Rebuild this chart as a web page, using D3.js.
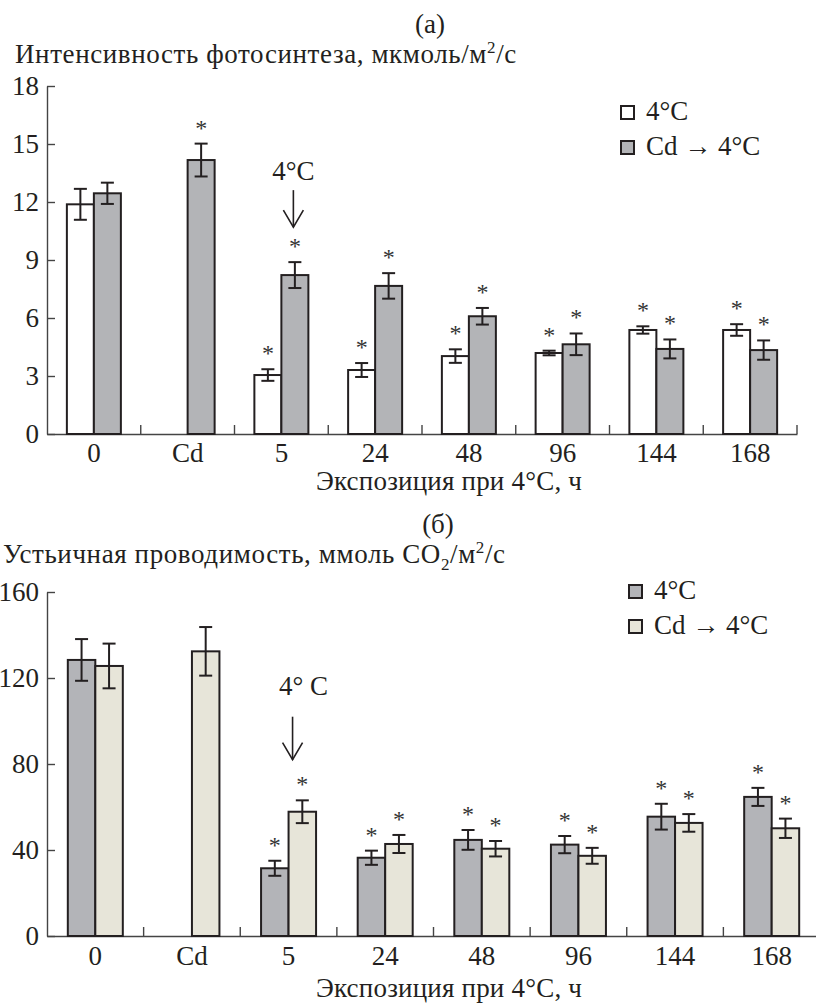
<!DOCTYPE html>
<html>
<head>
<meta charset="utf-8">
<script src="https://cdn.jsdelivr.net/npm/d3@7"></script>
<style>
  body { margin: 0; background: #fff; }
  text { font-family: "Liberation Serif", "Times New Roman", serif; fill: #231f20; }
</style>
</head>
<body>
<div id="chart"></div>
<script>
// categories (exposure at 4°C, h)
const categories = ["0", "Cd", "5", "24", "48", "96", "144", "168"];

// (а) photosynthesis rate, µmol/m2/s
const photo4 = [11.88, null, 3.05, 3.31, 4.03, 4.19, 5.38, 5.38];
const photo4Err = [0.8, null, 0.3, 0.36, 0.35, 0.12, 0.19, 0.3];
const photo4Sig = [false, false, true, true, true, true, true, true];
const photoCd = [12.45, 14.17, 8.22, 7.66, 6.09, 4.64, 4.4, 4.34];
const photoCdErr = [0.55, 0.85, 0.67, 0.66, 0.43, 0.56, 0.49, 0.5];
const photoCdSig = [false, true, true, true, true, true, true, true];
const photoTicks = [0, 3, 6, 9, 12, 15, 18];

// (б) stomatal conductance, mmol CO2/m2/s
const cond4 = [128.4, null, 31.5, 36.4, 44.7, 42.5, 55.5, 64.7];
const cond4Err = [9.7, null, 3.5, 3.3, 4.6, 4.0, 6.0, 4.2];
const cond4Sig = [false, false, true, true, true, true, true, true];
const condCd = [125.6, 132.4, 57.8, 42.8, 40.6, 37.3, 52.6, 50.1];
const condCdErr = [10.4, 11.3, 5.3, 4.2, 3.6, 3.7, 4.1, 4.5];
const condCdSig = [false, false, true, true, true, true, true, true];
const condTicks = [0, 40, 80, 120, 160];

const seriesNames = ["4°C", "Cd → 4°C"];

const W = 816, H = 1003;
const ink = "#231f20";
const fs = 27;

const svg = d3.select("#chart").append("svg")
    .attr("width", W)
    .attr("height", H);

function drawPanel(cfg) {
    const g = svg.append("g");

    const x = d3.scaleBand().domain(categories).range([cfg.left, cfg.right]);
    const y = d3.scaleLinear().domain([0, cfg.yMax]).range([cfg.bottom, cfg.top]);
    const x1 = d3.scaleBand().domain([0, 1]).range([0, cfg.barW * 2]);
    const off = (x.bandwidth() - cfg.barW * 2) / 2;

    // panel letter and title
    g.append("text")
        .attr("x", cfg.letterX).attr("y", cfg.letterY)
        .attr("text-anchor", "middle")
        .attr("font-size", fs)
        .text(cfg.letter);

    const t = g.append("text")
        .attr("x", cfg.titleX).attr("y", cfg.titleY)
        .attr("font-size", fs)
        .attr("letter-spacing", 0.6);
    cfg.title.forEach(p => {
        const s = t.append("tspan").text(p.t);
        if (p.sup) s.attr("font-size", 17).attr("dy", -10);
        if (p.sub) s.attr("font-size", 17).attr("dy", 7);
        if (p.back) s.attr("dy", p.back);
    });

    // y axis with inward ticks
    const yAxis = g.append("g")
        .attr("transform", `translate(${cfg.left},0)`)
        .call(d3.axisLeft(y).tickValues(cfg.ticks).tickSize(-8).tickPadding(8).tickSizeOuter(0));
    yAxis.select(".domain").attr("stroke", "#444").attr("stroke-width", 1.4);
    yAxis.selectAll(".tick line").attr("stroke", "#444").attr("stroke-width", 1.4);
    yAxis.selectAll(".tick text")
        .attr("font-size", fs)
        .attr("font-family", "Liberation Serif")
        .attr("fill", ink);

    // x axis: labels at band centres, ticks at band boundaries
    const xAxis = g.append("g")
        .attr("transform", `translate(0,${cfg.bottom})`)
        .call(d3.axisBottom(x).tickSize(0).tickSizeOuter(0));
    xAxis.select(".domain").attr("stroke", "#444").attr("stroke-width", 1.4);
    xAxis.selectAll(".tick text")
        .attr("font-size", fs)
        .attr("font-family", "Liberation Serif")
        .attr("fill", ink)
        .attr("dy", null)
        .attr("y", cfg.tickLabelDy);

    g.selectAll(".xtick")
        .data(categories)
        .enter().append("line")
        .attr("class", "xtick")
        .attr("x1", d => x(d) + x.step())
        .attr("x2", d => x(d) + x.step())
        .attr("y1", cfg.bottom)
        .attr("y2", cfg.bottom - 9)
        .attr("stroke", "#444")
        .attr("stroke-width", 1.4);

    g.append("text")
        .attr("x", cfg.xTitleX).attr("y", cfg.xTitleY)
        .attr("text-anchor", "middle")
        .attr("font-size", fs)
        .attr("letter-spacing", 0.2)
        .text("Экспозиция при 4°C, ч");

    // bars, error bars, asterisks
    cfg.series.forEach((s, si) => {
        const rows = categories.map((c, i) => ({
            c, v: s.values[i], e: s.err[i], sig: s.sig[i]
        })).filter(d => d.v != null);

        const bx = d => x(d.c) + off + x1(si);
        const cx = d => bx(d) + cfg.barW / 2;

        g.selectAll(".bar" + si)
            .data(rows)
            .enter().append("rect")
            .attr("x", bx)
            .attr("y", d => y(d.v))
            .attr("width", cfg.barW)
            .attr("height", d => y(0) - y(d.v))
            .attr("fill", s.color)
            .attr("stroke", ink)
            .attr("stroke-width", 2);

        const eb = g.selectAll(".err" + si)
            .data(rows)
            .enter().append("g")
            .attr("stroke", ink)
            .attr("stroke-width", 2);
        eb.append("line")
            .attr("x1", cx).attr("x2", cx)
            .attr("y1", d => y(d.v + d.e)).attr("y2", d => y(d.v - d.e));
        eb.append("line")
            .attr("x1", d => cx(d) - 6.5).attr("x2", d => cx(d) + 6.5)
            .attr("y1", d => y(d.v + d.e)).attr("y2", d => y(d.v + d.e));
        eb.append("line")
            .attr("x1", d => cx(d) - 6.5).attr("x2", d => cx(d) + 6.5)
            .attr("y1", d => y(d.v - d.e)).attr("y2", d => y(d.v - d.e));

        g.selectAll(".star" + si)
            .data(rows.filter(d => d.sig))
            .enter().append("text")
            .attr("x", cx)
            .attr("y", d => y(d.v + d.e) - 8)
            .attr("text-anchor", "middle")
            .attr("font-size", 24)
            .style("fill", "#333")
            .text("*");
    });

    // "4°C" arrow annotation
    const ax = x(cfg.arrowCat) + x.bandwidth() / 2 + cfg.arrowDx;
    const tipY = y(cfg.arrowTip);
    const topY = tipY - cfg.arrowLen;
    const arr = g.append("g").attr("stroke", ink).attr("stroke-width", 1.6).attr("fill", "none");
    arr.append("line").attr("x1", ax).attr("x2", ax).attr("y1", topY).attr("y2", tipY);
    arr.append("path").attr("d", `M${ax - 10},${tipY - 17}L${ax},${tipY}L${ax + 10},${tipY - 17}`);
    g.append("text")
        .attr("x", ax + cfg.arrowTextDx).attr("y", topY - cfg.arrowTextGap)
        .attr("text-anchor", "middle")
        .attr("font-size", fs)
        .text(cfg.arrowText);

    // legend
    cfg.series.forEach((s, si) => {
        const ly = cfg.legendY + si * 35;
        g.append("rect")
            .attr("x", cfg.legendX).attr("y", ly - 14)
            .attr("width", 13).attr("height", 13)
            .attr("fill", s.color)
            .attr("stroke", ink)
            .attr("stroke-width", 2);
        g.append("text")
            .attr("x", cfg.legendX + 25).attr("y", ly)
            .attr("font-size", fs)
            .text(seriesNames[si]);
    });
}

drawPanel({
    letter: "(а)", letterX: 430, letterY: 33,
    title: [{ t: "Интенсивность фотосинтеза, мкмоль/м" }, { t: "2", sup: true }, { t: "/с", back: 10 }],
    titleX: 15, titleY: 63,
    left: 47, right: 797, top: 86, bottom: 434,
    yMax: 18, ticks: photoTicks, barW: 27,
    tickLabelDy: 28,
    xTitleX: 449, xTitleY: 490,
    series: [
        { values: photo4, err: photo4Err, sig: photo4Sig, color: "#ffffff" },
        { values: photoCd, err: photoCdErr, sig: photoCdSig, color: "#b3b4b7" }
    ],
    arrowCat: "5", arrowDx: 12, arrowTip: 10.7, arrowLen: 37,
    arrowText: "4°C", arrowTextDx: 0, arrowTextGap: 10,
    legendX: 621, legendY: 120
});

drawPanel({
    letter: "(б)", letterX: 438, letterY: 533,
    title: [{ t: "Устьичная проводимость, ммоль CO" }, { t: "2", sub: true }, { t: "/м", back: -7 }, { t: "2", sup: true }, { t: "/с", back: 10 }],
    titleX: 3, titleY: 563,
    left: 47, right: 820, top: 592, bottom: 936,
    yMax: 160, ticks: condTicks, barW: 27.5,
    tickLabelDy: 29,
    xTitleX: 449, xTitleY: 997,
    series: [
        { values: cond4, err: cond4Err, sig: cond4Sig, color: "#b3b4b8" },
        { values: condCd, err: condCdErr, sig: condCdSig, color: "#e7e5d9" }
    ],
    arrowCat: "5", arrowDx: 4, arrowTip: 82, arrowLen: 43,
    arrowText: "4° C", arrowTextDx: 11, arrowTextGap: 22,
    legendX: 629, legendY: 599
});
</script>
</body>
</html>
